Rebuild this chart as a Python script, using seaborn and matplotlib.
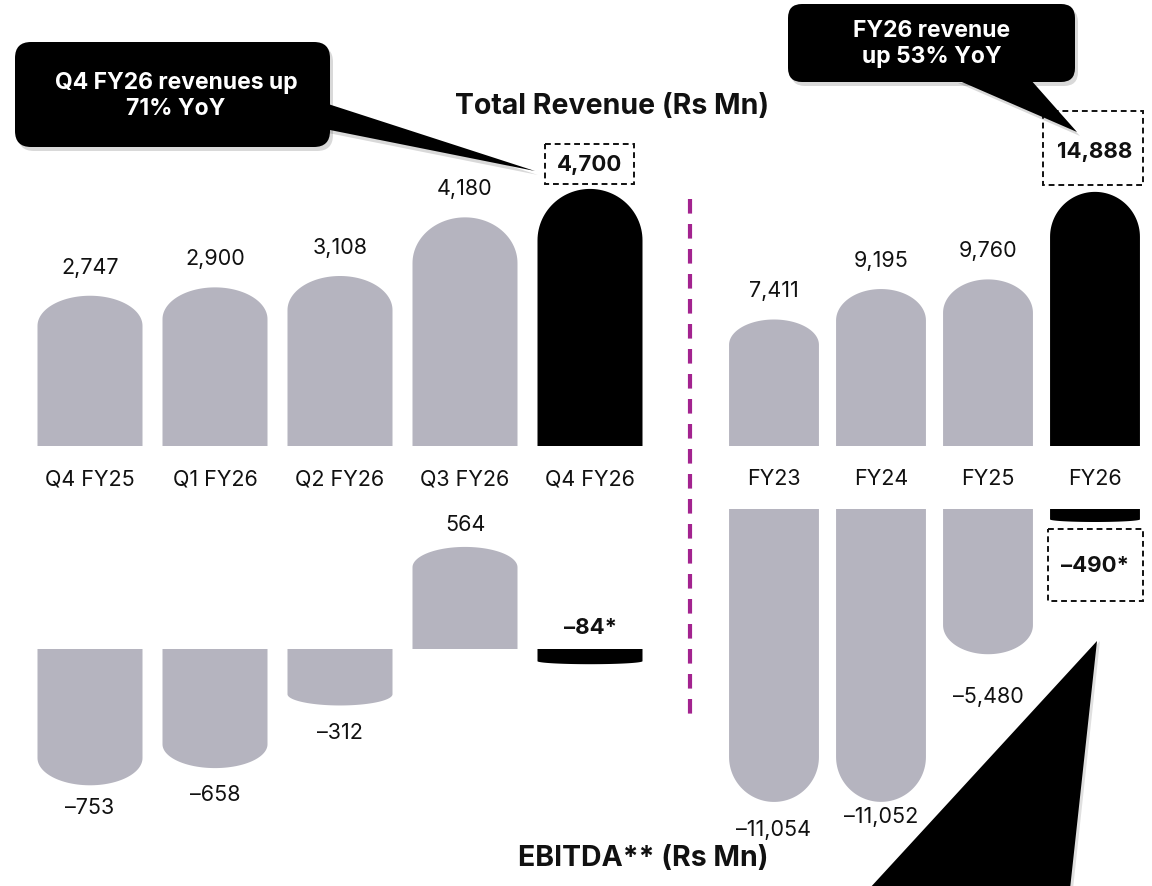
import numpy as np
import pandas as pd
import matplotlib
matplotlib.use("Agg")
import matplotlib.pyplot as plt
import seaborn as sns
from matplotlib.path import Path
from matplotlib.patches import PathPatch, Polygon, FancyBboxPatch, Rectangle
from matplotlib.lines import Line2D

# ---------------- data ----------------
quarter_labels = ["Q4 FY25", "Q1 FY26", "Q2 FY26", "Q3 FY26", "Q4 FY26"]
quarter_revenue = [2747, 2900, 3108, 4180, 4700]
quarter_ebitda = [-753, -658, -312, 564, -84]

year_labels = ["FY23", "FY24", "FY25", "FY26"]
year_revenue = [7411, 9195, 9760, 14888]
year_ebitda = [-11054, -11052, -5480, -490]

revenue_title = "Total Revenue (Rs Mn)"
ebitda_title = "EBITDA** (Rs Mn)"
callout_quarter = "Q4 FY26 revenues up\n71% YoY"
callout_year = "FY26 revenue\nup 53% YoY"

# ---------------- style ----------------
sns.set_theme(style="white")
plt.rcParams["font.family"] = ["Inter", "DejaVu Sans"]

GRAY = "#b5b4bf"
BLACK = "#000000"
MAGENTA = "#a3238f"
TXT = "#111111"
VAL_FS = 15.5

W, H = 1152, 887
fig = plt.figure(figsize=(W / 100, H / 100), dpi=100)


def axes_px(x0, x1, y_top, y_bottom):
    return fig.add_axes([x0 / W, 1 - y_bottom / H, (x1 - x0) / W, (y_bottom - y_top) / H])


def rounded_bars(ax):
    fig_bbox = ax.bbox
    xlim, ylim = ax.get_xlim(), ax.get_ylim()
    px_x = fig_bbox.width / (xlim[1] - xlim[0])
    px_y = fig_bbox.height / (ylim[1] - ylim[0])
    for p in list(ax.patches):
        x0, w, h = p.get_x(), p.get_width(), p.get_height()
        y0 = p.get_y()
        top = y0 + h
        s = 1 if h >= 0 else -1
        hpx = abs(h) * px_y
        wpx = w * px_x
        cpx = min(0.2 * hpx, wpx / 2)
        c = cpx / px_y
        xc = x0 + w / 2
        ys = top - s * c
        t = np.linspace(0, np.pi, 60)
        arc_x = xc + (w / 2) * np.cos(t)
        arc_y = ys + s * c * np.sin(t)
        verts = [(x0, y0), (x0 + w, y0), (x0 + w, ys)] + list(zip(arc_x, arc_y)) + [(x0, ys), (x0, y0)]
        codes = [Path.MOVETO] + [Path.LINETO] * (len(verts) - 2) + [Path.CLOSEPOLY]
        pp = PathPatch(Path(verts, codes), facecolor=p.get_facecolor(), edgecolor="none", zorder=2)
        p.set_visible(False)
        ax.add_patch(pp)


def bar_axes(ax, labels, values, xlim, ylim, show_ticks):
    colors = [GRAY] * (len(labels) - 1) + [BLACK]
    df = pd.DataFrame({"cat": labels, "val": values})
    sns.barplot(data=df, x="cat", y="val", hue="cat", palette=colors, legend=False,
                width=0.84, saturation=1, ax=ax, order=labels, hue_order=labels)
    ax.set_xlim(*xlim)
    ax.set_ylim(*ylim)
    for sp in ax.spines.values():
        sp.set_visible(False)
    ax.set_xlabel("")
    ax.set_ylabel("")
    ax.set_yticks([])
    ax.patch.set_alpha(0)
    if show_ticks:
        ax.tick_params(axis="x", length=0, pad=16, labelsize=15.5, labelcolor=TXT)
    else:
        ax.set_xticks([])
    rounded_bars(ax)


# panels: quarterly revenue, annual revenue, quarterly EBITDA, annual EBITDA
ax_qr = axes_px(27.5, 652.5, 447 - 5000 * 0.0547, 447)
bar_axes(ax_qr, quarter_labels, quarter_revenue, (-0.5, 4.5), (0, 5000), True)

ax_yr = axes_px(720.5, 1148.5, 447 - 16000 * 0.01707, 447)
bar_axes(ax_yr, year_labels, year_revenue, (-0.5, 3.5), (0, 16000), True)

ax_qe = axes_px(27.5, 652.5, 650 - 700 * 0.181, 650 + 900 * 0.181)
bar_axes(ax_qe, quarter_labels, quarter_ebitda, (-0.5, 4.5), (-900, 700), False)

ax_ye = axes_px(720.5, 1148.5, 510 - 500 * 0.0265, 510 + 12000 * 0.0265)
bar_axes(ax_ye, year_labels, year_ebitda, (-0.5, 3.5), (-12000, 500), False)


def minus(s):
    return s.replace("-", "\u2013")


# value labels
qr_offsets = [29, 29, 29, 29, 25]
for i, v in enumerate(quarter_revenue):
    last = i == len(quarter_revenue) - 1
    ax_qr.annotate(f"{v:,}", (i, v), xytext=(0, qr_offsets[i] * 0.72), textcoords="offset points",
                   ha="center", va="center", fontsize=16 if last else VAL_FS,
                   fontweight="bold" if last else "normal", color=TXT, annotation_clip=False)

yr_offsets = [29, 29, 29, 41]
for i, v in enumerate(year_revenue):
    last = i == len(year_revenue) - 1
    ax_yr.annotate(f"{v:,}", (i, v), xytext=(0, yr_offsets[i] * 0.72), textcoords="offset points",
                   ha="center", va="center", fontsize=16 if last else VAL_FS,
                   fontweight="bold" if last else "normal", color=TXT, annotation_clip=False)

qe_offsets = [-22, -26, -27, 23, 0]
for i, v in enumerate(quarter_ebitda):
    last = i == len(quarter_ebitda) - 1
    if last:
        ax_qe.annotate(minus(f"{v:,}*"), (i, 0), xytext=(0, 22 * 0.72),
                       textcoords="offset points", ha="center", va="center", fontsize=16,
                       fontweight="bold", color=TXT, annotation_clip=False)
    else:
        ax_qe.annotate(minus(f"{v:,}"), (i, v), xytext=(0, qe_offsets[i] * 0.72),
                       textcoords="offset points", ha="center", va="center", fontsize=VAL_FS,
                       color=TXT, annotation_clip=False)

ye_offsets = [-27, -14, -42, 0]
for i, v in enumerate(year_ebitda):
    last = i == len(year_ebitda) - 1
    if last:
        ax_ye.annotate(minus(f"{v:,}*"), (i, 0), xytext=(0, -56 * 0.72),
                       textcoords="offset points", ha="center", va="center", fontsize=16,
                       fontweight="bold", color=TXT, annotation_clip=False)
    else:
        ax_ye.annotate(minus(f"{v:,}"), (i, v), xytext=(0, ye_offsets[i] * 0.72),
                       textcoords="offset points", ha="center", va="center", fontsize=VAL_FS,
                       color=TXT, annotation_clip=False)

# ---------------- overlay (pixel coordinates) ----------------
ov = fig.add_axes([0, 0, 1, 1])
ov.set_xlim(0, W)
ov.set_ylim(H, 0)
ov.axis("off")
ov.patch.set_alpha(0)

# titles
ov.text(612, 107, revenue_title, ha="center", va="center", fontsize=20.5, fontweight="bold", color=TXT)
ov.text(643, 859, ebitda_title, ha="center", va="center", fontsize=20.5, fontweight="bold", color=TXT)

# dashed separator
ov.add_line(Line2D([690, 690], [200, 722], color=MAGENTA, lw=3, dashes=(3.5, 2.5)))

# dashed value boxes
for (x0, y0, x1, y1) in [(545, 145, 634, 185), (1043, 112, 1143, 186), (1048, 530, 1143, 602)]:
    ov.add_patch(Rectangle((x0, y0), x1 - x0, y1 - y0, fill=False, edgecolor=TXT,
                           lw=1.4, ls=(0, (3, 2))))


def shadowed(patch_fn, off=(3, 4), alpha=0.15):
    patch_fn(off, "#000000", alpha)
    patch_fn((0, 0), BLACK, 1.0)


# callout 1
def callout1(off, col, a):
    dx, dy = off
    ov.add_patch(Polygon([(325 + dx, 104 + dy), (535 + dx, 172 + dy), (325 + dx, 130 + dy)],
                         closed=True, facecolor=col, edgecolor="none", alpha=a))
    ov.add_patch(FancyBboxPatch((15 + dx, 43 + dy), 315, 105,
                                boxstyle="round,pad=0,rounding_size=16",
                                facecolor=col, edgecolor="none", alpha=a))


shadowed(callout1)
ov.text(176, 96, callout_quarter, ha="center", va="center", fontsize=16.5, fontweight="bold",
        color="white", linespacing=1.2)


# callout 2
def callout2(off, col, a):
    dx, dy = off
    ov.add_patch(Polygon([(955 + dx, 80 + dy), (1077 + dx, 133 + dy), (1030 + dx, 80 + dy)],
                         closed=True, facecolor=col, edgecolor="none", alpha=a))
    ov.add_patch(FancyBboxPatch((788 + dx, 5 + dy), 287, 78,
                                boxstyle="round,pad=0,rounding_size=14",
                                facecolor=col, edgecolor="none", alpha=a))


shadowed(callout2)
ov.text(932, 44, callout_year, ha="center", va="center", fontsize=16.5, fontweight="bold",
        color="white", linespacing=1.2)


# big pointer at bottom right
def pointer3(off, col, a):
    dx, dy = off
    ov.add_patch(Polygon([(1097 + dx, 642 + dy), (1070 + dx, 890), (869 + dx, 890)],
                         closed=True, facecolor=col, edgecolor="none", alpha=a))


shadowed(pointer3, off=(3, 0), alpha=0.12)

fig.savefig("out.png", dpi=100)
